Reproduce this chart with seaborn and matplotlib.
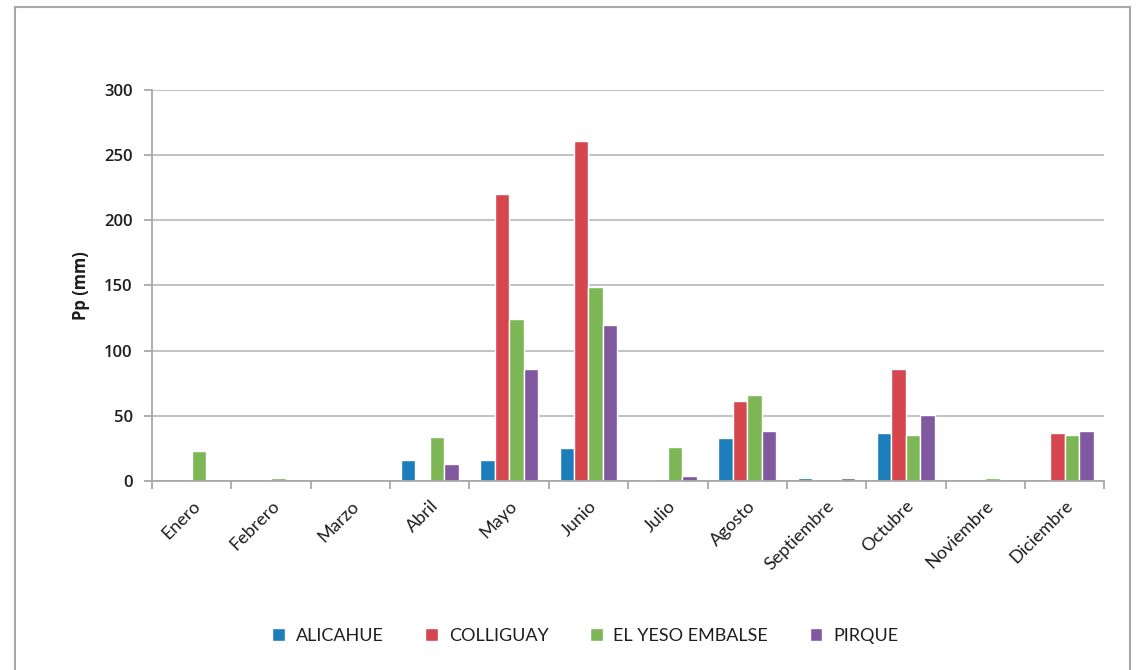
import matplotlib
matplotlib.use("Agg")
import matplotlib.pyplot as plt
import seaborn as sns
import pandas as pd
from matplotlib.patches import Rectangle

months = ["Enero", "Febrero", "Marzo", "Abril", "Mayo", "Junio", "Julio",
          "Agosto", "Septiembre", "Octubre", "Noviembre", "Diciembre"]
stations = ["ALICAHUE", "COLLIGUAY", "EL YESO EMBALSE", "PIRQUE"]
alicahue = [0, 0, 0, 16, 16, 25, 0.5, 33, 2, 37, 0, 0]
colliguay = [0, 0, 0, 0, 220, 261, 0, 61, 0, 86, 0, 37]
el_yeso = [23, 2, 0, 34, 124, 149, 26, 66, 0, 35, 2, 35]
pirque = [0, 0, 0, 13, 86, 120, 4, 38, 2, 51, 0, 38]
colors = ["#1B7DBA", "#D5464F", "#7DB655", "#7F58A0"]

df = pd.DataFrame({
    "Mes": months * 4,
    "Estacion": sum([[s] * len(months) for s in stations], []),
    "Pp": alicahue + colliguay + el_yeso + pirque,
})

sns.set_style("white")
plt.rcParams["font.family"] = ["Lato", "DejaVu Sans"]
txt = "#1E1E1E"
bold_font = ["Open Sans", "DejaVu Sans"]

fig = plt.figure(figsize=(11.39, 6.70), dpi=100)
ax = fig.add_axes([0.1335, 0.282, 0.836, 0.584])

sns.barplot(data=df, x="Mes", y="Pp", hue="Estacion", palette=colors,
            width=0.73, gap=0, saturation=1, ax=ax, legend=True)

ax.set_ylim(0, 300)
ax.set_xlim(-0.5, len(months) - 0.5)
ax.set_yticks(range(0, 301, 50))
ax.yaxis.grid(True, color="#BDBDBD", linewidth=1.3)
ax.set_axisbelow(True)
for s in ["top", "right"]:
    ax.spines[s].set_visible(False)
for s in ["left", "bottom"]:
    ax.spines[s].set_color("#A8A8A8")
    ax.spines[s].set_linewidth(1.3)

ax.set_xticks(range(len(months)))
ax.set_xticklabels(months, rotation=45, ha="right", rotation_mode="anchor",
                   fontsize=13, color=txt)
ax.tick_params(axis="x", which="major", length=0, pad=12)
ax.set_xticks([i - 0.5 for i in range(len(months) + 1)], minor=True)
ax.tick_params(axis="x", which="minor", bottom=True, length=6, color="#A8A8A8", width=1.3)
ax.tick_params(axis="y", left=True, length=6, color="#A8A8A8", width=1.3, pad=8)
ax.set_yticklabels([str(v) for v in range(0, 301, 50)], fontsize=12,
                   fontweight="semibold", family=bold_font, color=txt)

ax.set_xlabel("")
ax.set_ylabel("Pp (mm)", fontsize=12, fontweight="bold", family=bold_font,
              color=txt, labelpad=10)

handles, labels = ax.get_legend_handles_labels()
leg = ax.legend(handles, labels, loc="center", bbox_to_anchor=(0.455, -0.395), ncol=4,
                frameon=False, handlelength=0.7, handleheight=0.7,
                handletextpad=0.6, columnspacing=2.3, prop={"size": 13})
for t in leg.get_texts():
    t.set_color(txt)

fig.patches.append(Rectangle((0.013, -0.01), 0.979, 1.0, transform=fig.transFigure,
                             fill=False, edgecolor="#A8A8A8", linewidth=1.5))

fig.savefig("out.png", dpi=100)
